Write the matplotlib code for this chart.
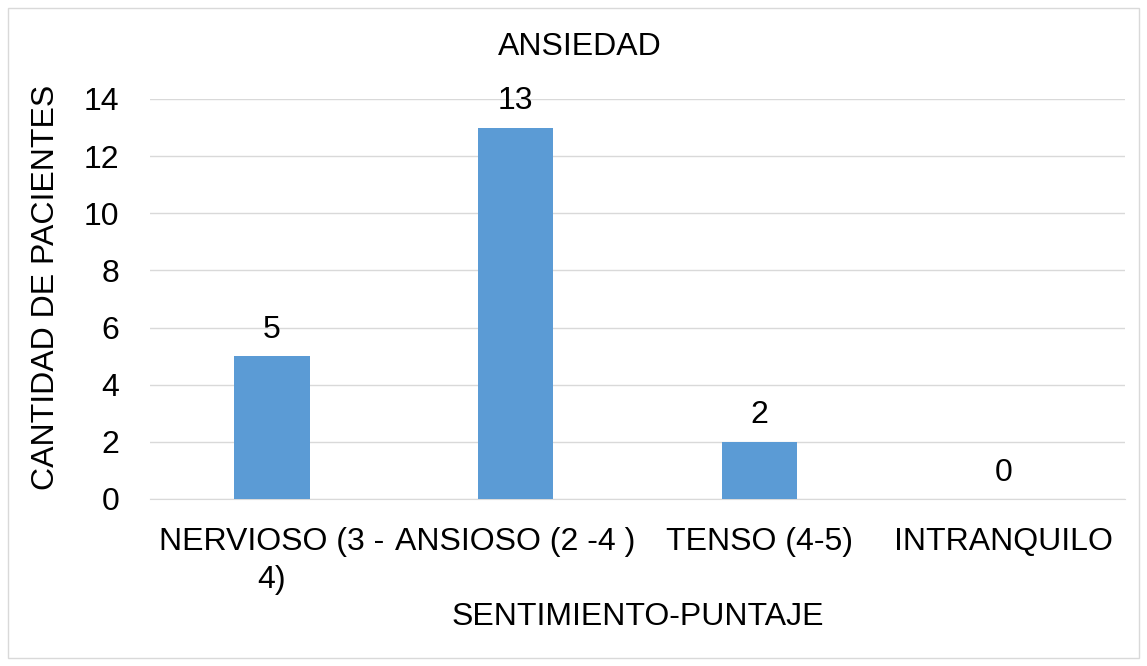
import matplotlib.pyplot as plt
from matplotlib.patches import Rectangle

plt.rcParams['font.family'] = ['Liberation Sans', 'DejaVu Sans']

categorias = ['NERVIOSO (3 -\n4)', 'ANSIOSO (2 -4 )', 'TENSO (4-5)', 'INTRANQUILO']
pacientes = [5, 13, 2, 0]
yticks = [0, 2, 4, 6, 8, 10, 12, 14]

W, H = 1147, 666
fig = plt.figure(figsize=(W / 100, H / 100), dpi=100)
ax = fig.add_axes([150/W, 1 - 499/H, 975/W, 400/H])

x = range(len(categorias))
ax.bar(x, pacientes, width=0.31, color='#5B9BD5', zorder=3)
for i, v in zip(x, pacientes):
    ax.text(i, v + 0.4, str(v), ha='center', va='bottom', fontsize=23)

ax.set_xlim(-0.5, 3.5)
ax.set_ylim(0, 14)
ax.set_yticks(yticks)
ax.set_xticks(list(x))
ax.set_xticklabels(categorias, fontsize=23, linespacing=1.35)
ax.tick_params(axis='y', labelsize=23, length=0, pad=22)
ax.tick_params(axis='x', length=0, pad=20)
ax.grid(axis='y', color='#D9D9D9', linewidth=1, zorder=0)
for s in ['top', 'right', 'left']:
    ax.spines[s].set_visible(False)
ax.spines['bottom'].set_color('#D9D9D9')

fig.text(580/W, 1 - 47/H, 'ANSIEDAD', fontsize=23, ha='center', va='center')
fig.text(638/W, 1 - 617/H, 'SENTIMIENTO-PUNTAJE', fontsize=23, ha='center', va='center')
fig.text(46/W, 1 - 287/H, 'CANTIDAD DE PACIENTES', fontsize=23, ha='center',
         va='center', rotation=90)

fig.patches.append(Rectangle((8/W, 8/H), 1 - 16/W, 1 - 16/H,
                             transform=fig.transFigure, fill=False,
                             edgecolor='#D9D9D9', linewidth=1))

fig.savefig('out.png', dpi=100)
